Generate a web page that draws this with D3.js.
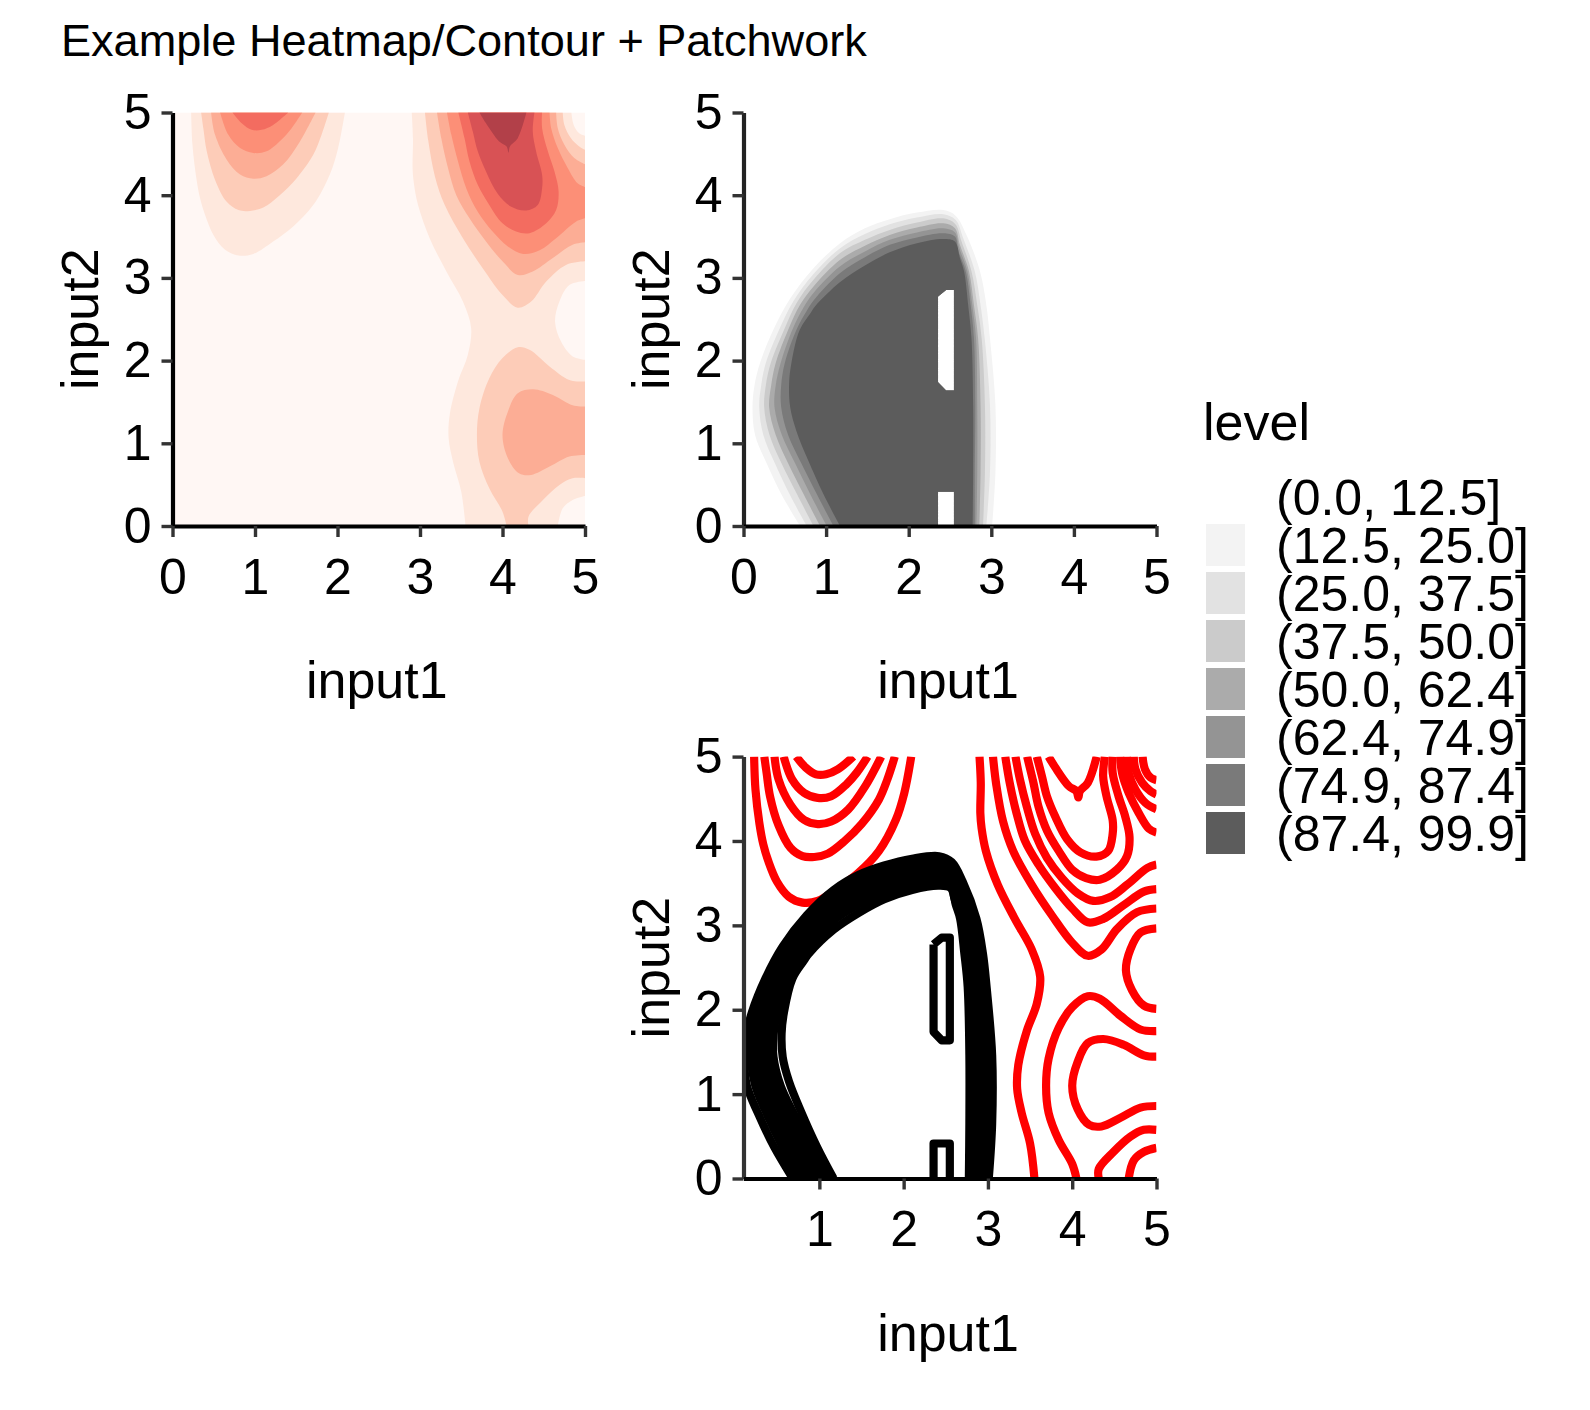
<!DOCTYPE html>
<html>
<head>
<meta charset="utf-8">
<script src="https://cdn.jsdelivr.net/npm/d3@7"></script>
<style>
  html, body { margin: 0; padding: 0; background: #fff; }
  text { font-family: "Liberation Sans", Arial, sans-serif; fill: #000; }
</style>
</head>
<body>
<div id="chart"></div>
<script>
const axisTicks = [0, 1, 2, 3, 4, 5];
const bottomTicksC = [1, 2, 3, 4, 5];
const legendLabels = ["(0.0, 12.5]", "(12.5, 25.0]", "(25.0, 37.5]", "(37.5, 50.0]", "(50.0, 62.4]", "(62.4, 74.9]", "(74.9, 87.4]", "(87.4, 99.9]"];
const greyColours = ["#ffffff", "#f3f3f3", "#e2e2e2", "#cbcbcb", "#ababab", "#949494", "#7a7a7a", "#5c5c5c"];
const redColours = ["#fff7f4", "#fee8dd", "#fdccb8", "#fcad95", "#fc8f77", "#f36c60", "#d85255", "#b24049"];

// Mean level contours as [input1, input2]
const r2Left = [[.226,5],[.242,4.61],[.29,4.2],[.335,3.96],[.395,3.76],[.496,3.52],[.637,3.34],[.8,3.27],[.98,3.29],[1.22,3.44],[1.46,3.62],[1.706,3.88],[1.907,4.25],[2.008,4.57],[2.09,5]];
const r3Left = [[.347,5],[.375,4.8],[.415,4.53],[.516,4.185],[.657,3.92],[.8,3.82],[.94,3.81],[1.1,3.85],[1.3,4],[1.5,4.2],[1.706,4.49],[1.807,4.73],[1.895,5]];
const r4Left = [[.468,5],[.516,4.73],[.657,4.43],[.819,4.25],[.98,4.2],[1.14,4.23],[1.34,4.37],[1.545,4.65],[1.734,5]];
const r5Left = [[.577,5],[.677,4.73],[.819,4.57],[.98,4.51],[1.14,4.53],[1.32,4.67],[1.444,4.81],[1.573,5]];
const r6Left = [[.726,5],[.839,4.87],[.96,4.79],[1.08,4.79],[1.22,4.85],[1.403,5]];

const r2Main = [[2.9,5],[2.915,4.69],[2.91,4.33],[2.925,4.15],[2.976,3.88],[3.117,3.48],[3.32,3.077],[3.52,2.714],[3.62,2.39],[3.58,2.07],[3.46,1.746],[3.36,1.343],[3.347,1.06],[3.4,.778],[3.5,.415],[3.552,0]];
const r2Bottom = [[4.67,0],[4.73,.214],[4.85,.315],[5,.363]];
const r2Patch = [[5,2.01],[4.85,2.05],[4.71,2.23],[4.637,2.47],[4.69,2.714],[4.81,2.915],[5,2.964]];
const r2Corner = [[5,4.72],[4.93,4.75],[4.863,4.85],[4.835,5]];

const r3Main = [[3.06,5],[3.1,4.66],[3.18,4.23],[3.3,3.88],[3.52,3.48],[3.76,3.117],[4,2.794],[4.185,2.64],[4.347,2.714],[4.53,2.956],[4.77,3.157],[5,3.2]];
const r3Corner = [[5,4.55],[4.93,4.59],[4.83,4.69],[4.75,4.85],[4.73,5]];
const r3Low = [[4.05,0],[4,.173],[3.84,.456],[3.72,.778],[3.69,1.1],[3.72,1.42],[3.84,1.786],[4,2.03],[4.185,2.16],[4.327,2.13],[4.57,1.93],[4.81,1.766],[5,1.746]];
const r3Foot = [[5,.577],[4.85,.577],[4.69,.496],[4.49,.315],[4.315,.113],[4.315,0]];

const r4Main = [[3.206,5],[3.258,4.69],[3.34,4.327],[3.44,4],[3.6,3.72],[3.8,3.44],[4,3.2],[4.185,3.036],[4.367,3.077],[4.61,3.24],[4.85,3.4],[5,3.43]];
const r4Corner = [[5,4.375],[4.87,4.45],[4.75,4.61],[4.67,4.81],[4.65,5]];
const r4Low = [[5,1.444],[4.85,1.46],[4.61,1.585],[4.37,1.653],[4.185,1.605],[4.065,1.383],[4,1.1],[4.065,.82],[4.2,.637],[4.347,.617],[4.57,.718],[4.81,.84],[5,.859]];

const r5Main = [[3.327,5],[3.38,4.73],[3.46,4.41],[3.56,4.085],[3.7,3.8],[3.88,3.56],[4.065,3.38],[4.25,3.29],[4.45,3.335],[4.65,3.48],[4.89,3.68],[5,3.72]];
const r5Corner = [[5,4.1],[4.91,4.145],[4.79,4.33],[4.67,4.57],[4.59,4.81],[4.57,5]];

const r6Right = [[3.465,5],[3.54,4.69],[3.6,4.407],[3.7,4.125],[3.84,3.883],[4,3.66],[4.165,3.56],[4.327,3.54],[4.53,3.66],[4.65,3.82],[4.68,4.044],[4.63,4.286],[4.55,4.53],[4.48,4.81],[4.48,5]];
const r7Right = [[3.58,5],[3.64,4.77],[3.7,4.53],[3.8,4.286],[3.94,4.02],[4.1,3.863],[4.286,3.815],[4.427,3.883],[4.48,4.085],[4.48,4.246],[4.407,4.53],[4.367,4.77],[4.387,5]];
const r8Right = [[3.72,5],[3.8,4.87],[3.96,4.65],[4.05,4.59],[4.073,4.516],[4.09,4.59],[4.185,4.69],[4.29,5]];

// Standard deviation contours
const g2 = [[.685,0],[.46,.38],[.28,.758],[.14,1.1],[.109,1.44],[.133,1.7],[.2,1.97],[.36,2.37],[.565,2.75],[.85,3.12],[1.17,3.42],[1.47,3.6],[1.77,3.71],[2.1,3.79],[2.42,3.82],[2.57,3.75],[2.7,3.52],[2.863,3.08],[2.94,2.67],[2.984,2.27],[3.05,1.46],[3.05,.65],[3.01,0]];
const g3 = [[.766,0],[.56,.38],[.38,.758],[.24,1.1],[.19,1.44],[.214,1.7],[.27,1.97],[.43,2.37],[.605,2.72],[.85,3.05],[1.17,3.36],[1.47,3.53],[1.77,3.65],[2.1,3.73],[2.42,3.77],[2.57,3.7],[2.66,3.48],[2.8,3.08],[2.87,2.67],[2.92,2.27],[2.984,1.46],[2.984,.65],[2.94,0]];
const g4 = [[.847,0],[.65,.38],[.46,.758],[.315,1.1],[.25,1.44],[.27,1.7],[.33,1.97],[.49,2.37],[.645,2.7],[.85,2.98],[1.17,3.3],[1.47,3.46],[1.77,3.58],[2.1,3.67],[2.42,3.72],[2.565,3.65],[2.64,3.44],[2.76,3.08],[2.83,2.67],[2.883,2.27],[2.923,1.46],[2.923,.65],[2.9,0]];
const g5 = [[.927,0],[.73,.38],[.54,.758],[.39,1.1],[.31,1.44],[.335,1.7],[.39,1.97],[.54,2.37],[.685,2.675],[.85,2.9],[1.17,3.22],[1.47,3.39],[1.77,3.52],[2.1,3.61],[2.42,3.66],[2.56,3.6],[2.62,3.4],[2.73,3.08],[2.79,2.67],[2.84,2.27],[2.87,1.46],[2.87,.65],[2.855,0]];
const g6 = [[1.008,0],[.81,.38],[.625,.758],[.464,1.1],[.375,1.44],[.39,1.7],[.45,1.97],[.59,2.37],[.725,2.64],[.85,2.82],[1.17,3.14],[1.47,3.32],[1.77,3.46],[2.1,3.55],[2.42,3.6],[2.56,3.55],[2.61,3.37],[2.71,3.08],[2.77,2.67],[2.815,2.27],[2.83,1.46],[2.83,.65],[2.82,0]];
const g7 = [[1.089,0],[.89,.38],[.7,.758],[.54,1.1],[.456,1.44],[.456,1.7],[.5,1.97],[.64,2.37],[.77,2.61],[.85,2.73],[1.17,3.06],[1.47,3.25],[1.77,3.4],[2.1,3.49],[2.42,3.54],[2.56,3.5],[2.6,3.33],[2.69,3.08],[2.75,2.67],[2.79,2.27],[2.806,1.46],[2.8,.65],[2.8,0]];
const g8 = [[1.169,0],[.97,.38],[.78,.8],[.64,1.15],[.565,1.44],[.552,1.72],[.58,1.97],[.68,2.37],[.815,2.58],[.87,2.66],[1.17,2.95],[1.47,3.15],[1.77,3.31],[2.1,3.42],[2.42,3.47],[2.56,3.44],[2.62,3.24],[2.67,3.08],[2.72,2.67],[2.76,2.27],[2.78,1.46],[2.78,.65],[2.774,0]];
const holeMid = [[2.355,2.774],[2.452,2.855],[2.548,2.855],[2.548,1.637],[2.452,1.637],[2.355,1.738],[2.355,2.774]];
const holeFoot = [[2.355,0],[2.355,.415],[2.548,.415],[2.548,0]];

// each band: its colour index and the pieces of its outline, joined along the panel edge
const redBands = [
  [1, [r2Left]], [1, [r2Main, r2Bottom, r2Patch, r2Corner]],
  [2, [r3Left]], [2, [r3Main, r3Corner]], [2, [r3Low, r3Foot]],
  [3, [r4Left]], [3, [r4Main, r4Corner]], [3, [r4Low]],
  [4, [r5Left]], [4, [r5Main, r5Corner]],
  [5, [r6Left]], [5, [r6Right]],
  [6, [r7Right]],
  [7, [r8Right]]
];
const redLines = [r2Left, r3Left, r4Left, r5Left, r6Left, r2Main, r2Bottom, r2Patch, r2Corner, r3Main, r3Corner, r3Low, r3Foot, r4Main, r4Corner, r4Low, r5Main, r5Corner, r6Right, r7Right, r8Right];
const greyLines = [g2, g3, g4, g5, g6, g7, g8];

const svg = d3.select("#chart").append("svg")
  .attr("width", 1590)
  .attr("height", 1410);

function makePanel(id, left, right, top, bottom, xDomain, xTicks, leftColour) {
  const x = d3.scaleLinear().domain(xDomain).range([left, right]);
  const y = d3.scaleLinear().domain([0, 5]).range([bottom, top]);
  const g = svg.append("g");
  svg.append("clipPath").attr("id", id).append("rect")
    .attr("x", left).attr("y", top).attr("width", right - left).attr("height", bottom - top);
  const marks = g.append("g").attr("clip-path", `url(#${id})`);
  const line = d3.line().x(d => x(d[0])).y(d => y(d[1])).curve(d3.curveCatmullRom.alpha(0.5));
  const straight = d3.line().x(d => x(d[0])).y(d => y(d[1]));

  const axes = g.append("g");
  const yAxis = axes.append("g").attr("transform", `translate(${left},0)`)
    .call(d3.axisLeft(y).tickValues(axisTicks).tickFormat(d3.format("d")).tickSizeInner(11).tickSizeOuter(0).tickPadding(10));
  const xAxis = axes.append("g").attr("transform", `translate(0,${bottom})`)
    .call(d3.axisBottom(x).tickValues(xTicks).tickFormat(d3.format("d")).tickSizeInner(11).tickSizeOuter(0).tickPadding(21));
  axes.selectAll(".tick line").attr("stroke", "#333").attr("stroke-width", 3.4);
  axes.selectAll(".tick text").style("font-size", "50px").attr("font-family", null);
  yAxis.select(".domain").attr("stroke", leftColour).attr("stroke-width", 4.2);
  xAxis.select(".domain").attr("stroke", "#000").attr("stroke-width", 4);

  g.append("text")
    .attr("x", (left + right) / 2 - 2).attr("y", bottom + 172)
    .attr("text-anchor", "middle").style("font-size", "52px").text("input1");
  g.append("text")
    .attr("transform", `translate(${left - 75},${(top + bottom) / 2}) rotate(-90)`)
    .attr("text-anchor", "middle").style("font-size", "52px").text("input2");
  return { x, y, marks, line, straight };
}

// joins curved pieces into one closed outline
function outline(p, pieces) {
  return pieces.map((s, i) => i ? p.line(s).replace("M", "L") : p.line(s)).join("") + "Z";
}

// Title
svg.append("text").attr("x", 61).attr("y", 56).style("font-size", "45.1px")
  .text("Example Heatmap/Contour + Patchwork");

// Top left: mean level
const pA = makePanel("clipA", 172.5, 585, 112.5, 526, [0, 5], axisTicks, "#000");
pA.marks.append("rect")
  .attr("x", pA.x(0)).attr("y", pA.y(5))
  .attr("width", pA.x(5) - pA.x(0)).attr("height", pA.y(0) - pA.y(5))
  .attr("fill", redColours[0]);
pA.marks.selectAll("path").data(redBands).join("path")
  .attr("d", d => outline(pA, d[1]))
  .attr("fill", d => redColours[d[0]]);

// Top right: standard deviation, the two holes stay white through every band
const pB = makePanel("clipB", 743.5, 1156.5, 112.5, 526, [0, 5], axisTicks, "#222");
pB.marks.selectAll("path").data(greyLines).join("path")
  .attr("d", d => outline(pB, [d]) + pB.straight(holeMid) + pB.straight(holeFoot) + "Z")
  .attr("fill-rule", "evenodd")
  .attr("fill", (d, i) => greyColours[i + 1]);

// Bottom right: contour lines of both
const pC = makePanel("clipC", 743.5, 1156.5, 756.6, 1178.5, [0.1, 5], bottomTicksC, "#333");
pC.marks.selectAll(".red").data(redLines).join("path")
  .attr("class", "red")
  .attr("d", pC.line)
  .attr("fill", "none").attr("stroke", "#ff0000").attr("stroke-width", 8.2).attr("stroke-linejoin", "round");
pC.marks.selectAll(".black").data(greyLines).join("path")
  .attr("class", "black")
  .attr("d", pC.line)
  .attr("fill", "none").attr("stroke", "#000").attr("stroke-width", 8.2).attr("stroke-linejoin", "round");
pC.marks.selectAll(".hole").data([holeMid, holeFoot]).join("path")
  .attr("class", "hole")
  .attr("d", pC.straight)
  .attr("fill", "none").attr("stroke", "#000").attr("stroke-width", 8.2).attr("stroke-linejoin", "round");

// Legend
const legend = svg.append("g");
legend.append("text").attr("x", 1203).attr("y", 440).style("font-size", "52px").text("level");
const keys = legend.selectAll("g").data(legendLabels).join("g")
  .attr("transform", (d, i) => `translate(0,${i * 48})`);
keys.append("rect")
  .attr("x", 1206).attr("y", 476).attr("width", 39).attr("height", 42)
  .attr("fill", (d, i) => greyColours[i]);
keys.append("text")
  .attr("x", 1276).attr("y", 515).style("font-size", "50px").text(d => d);
</script>
</body>
</html>
